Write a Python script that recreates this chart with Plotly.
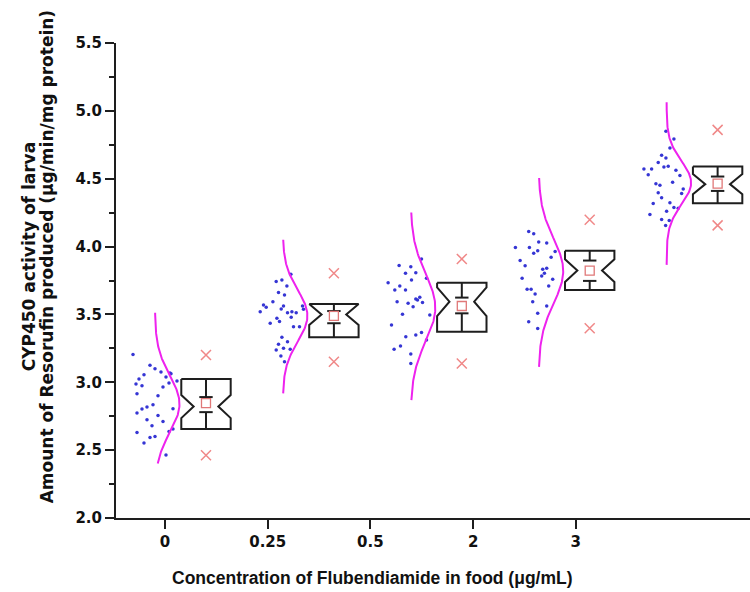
import numpy as np
import plotly.graph_objects as go

# ---------------- data ----------------
categories = ["0", "0.25", "0.5", "2", "3"]

values_0 = [3.204, 3.125, 3.100, 3.076, 3.068, 3.056, 3.024, 3.039, 3.063, 3.009, 2.975, 2.965,
            2.995, 2.916, 2.901, 2.834, 2.817, 2.803, 2.805, 2.724, 2.755, 2.711, 2.679, 2.655,
            2.637, 2.630, 2.593, 2.600, 2.552, 2.465, 2.987, 2.774]
values_1 = [3.796, 3.742, 3.754, 3.710, 3.661, 3.644, 3.594, 3.570, 3.553, 3.520, 3.540, 3.562,
            3.513, 3.520, 3.513, 3.562, 3.538, 3.472, 3.435, 3.447, 3.479, 3.410, 3.410, 3.331,
            3.299, 3.280, 3.250, 3.238, 3.193, 3.243, 3.151]
values_2 = [3.909, 3.860, 3.852, 3.803, 3.807, 3.766, 3.754, 3.734, 3.710, 3.680, 3.680, 3.614,
            3.627, 3.587, 3.607, 3.582, 3.557, 3.594, 3.501, 3.496, 3.422, 3.366, 3.349, 3.336,
            3.312, 3.268, 3.243, 3.209, 3.139]
values_3 = [4.111, 4.094, 4.033, 4.026, 3.993, 3.993, 3.970, 3.951, 3.963, 3.897, 3.922, 3.858,
            3.833, 3.841, 3.784, 3.804, 3.767, 3.760, 3.710, 3.686, 3.686, 3.651, 3.594, 3.562,
            3.508, 3.446, 3.397]
values_4 = [4.849, 4.793, 4.726, 4.672, 4.653, 4.620, 4.586, 4.591, 4.572, 4.572, 4.530, 4.562,
            4.523, 4.474, 4.462, 4.452, 4.425, 4.396, 4.391, 4.359, 4.317, 4.322, 4.283, 4.288,
            4.261, 4.236, 4.199, 4.192, 4.155]

# horizontal jitter of the raw-data dots (pixels from each group's anchor, as seen in the picture)
jitter_0 = [-22, -5, 0, 6, 15, -11, -16, 11, 16, 22, -13, 8, 14, -18, 3, -2, -8, -13, 18, -8,
            3, 8, -3, 18, 14, -18, -5, 0, -11, 11, -19, -18]
jitter_1 = [8.0, -6.7, -1.0, 4.0, -4.4, 1.6, -10.0, -19.4, -16.7, -22.7, -1.7, 0.6, 4.6, 9.0, 13.3,
            19.6, 20.6, -6.0, -12.7, -3.4, 8.3, 10.6, 16.6, -1.0, 4.6, -4.4, 0.6, -6.7, -2.0, 7.3, 1.6]
jitter_2 = [10.7, -11.7, 0.0, -5.3, 5.0, 15.7, 0.7, -22.7, -11.0, -16.0, -5.3, 5.0, 9.0, 11.7, 6.7,
            -2.7, 2.3, -13.7, -8.3, 19.0, -19.3, 10.7, 5.0, -5.0, 15.7, -10.3, -16.7, 0.0, 0.0]
jitter_3 = [-10.0, -5.0, 0.0, 8.0, -23.3, -9.3, -1.0, -5.0, 16.4, -18.6, 12.4, -13.6, 4.0, 8.0, 3.0,
            5.7, -16.6, 14.0, 10.0, -11.6, -7.6, -3.6, -6.0, 8.0, -1.0, -10.0, -1.0]
jitter_4 = [-0.7, 7.3, 3.3, -5.0, -0.7, -8.4, -2.7, 1.6, -22.7, -15.0, -18.4, 9.3, 13.3, 6.0, -10.7,
            -6.7, 16.6, -8.4, 15.0, -5.0, -13.4, 3.3, 11.6, 7.3, 0.0, -16.7, -5.0, 2.6, -1.0]

q1 = [2.655, 3.331, 3.373, 3.680, 4.320]
q3 = [3.024, 3.577, 3.734, 3.970, 4.590]
median = [2.821, 3.500, 3.594, 3.823, 4.460]
notch_half = [0.085, 0.077, 0.106, 0.084, 0.074]
mean = [2.846, 3.489, 3.562, 3.823, 4.464]
whisker_lo = [2.780, 3.435, 3.508, 3.747, 4.410]
whisker_hi = [2.891, 3.525, 3.624, 3.897, 4.516]
pct_lo = [2.463, 3.151, 3.139, 3.398, 4.156]
pct_hi = [3.201, 3.804, 3.909, 4.197, 4.860]
curve_mu = [2.84, 3.49, 3.55, 3.82, 4.47]
curve_sd = [0.21, 0.19, 0.25, 0.24, 0.16]
curve_lo = [2.401, 2.918, 2.869, 3.114, 3.865]
curve_hi = [3.513, 4.050, 4.251, 4.505, 5.063]

all_values = [values_0, values_1, values_2, values_3, values_4]
all_jitter = [jitter_0, jitter_1, jitter_2, jitter_3, jitter_4]

# ---------------- layout geometry ----------------
PX = 102.7                      # pixels per category tick step
GROUP_STEP = 127.9 / PX         # spacing of plotted groups
ANCHOR0 = -10 / PX              # first group's data/curve anchor
BOX_OFF = 51 / PX
BOX_HALF = 24.7 / PX
CAP_HALF = 6.7 / PX
CURVE_AMP = 24.5 / PX
NOTCH_FRAC = 0.5

BOX_COLOR = "#1e1e1e"
DOT_COLOR = "#3535d4"
CURVE_COLOR = "#ee22ee"
MEAN_COLOR = "#e07878"
PCT_COLOR = "#f08888"

fig = go.Figure()

dot_x, dot_y = [], []
curve_x, curve_y = [], []
box_x, box_y = [], []
wh_x, wh_y = [], []
mean_x, pct_x, pct_y = [], [], []

for i in range(len(categories)):
    a = ANCHOR0 + GROUP_STEP * i
    # dots
    for v, j in zip(all_values[i], all_jitter[i]):
        dot_x.append(a + j / PX)
        dot_y.append(v)
    # normal curve
    ys = np.linspace(curve_lo[i], curve_hi[i], 150)
    xs = a + CURVE_AMP * np.exp(-0.5 * ((ys - curve_mu[i]) / curve_sd[i]) ** 2)
    curve_x += list(xs) + [None]
    curve_y += list(ys) + [None]
    # notched box
    c = a + BOX_OFF
    xl, xr = c - BOX_HALF, c + BOX_HALF
    ind = BOX_HALF * (1 - NOTCH_FRAC)
    nt = min(median[i] + notch_half[i], q3[i])
    nb = max(median[i] - notch_half[i], q1[i])
    box_x += [xl, xr, xr, xr - ind, xr, xr, xl, xl, xl + ind, xl, xl, None]
    box_y += [q3[i], q3[i], nt, median[i], nb, q1[i], q1[i], nb, median[i], nt, q3[i], None]
    # whiskers + caps
    wh_x += [c, c, None, c, c, None,
             c - CAP_HALF, c + CAP_HALF, None, c - CAP_HALF, c + CAP_HALF, None]
    wh_y += [q3[i], whisker_hi[i], None, q1[i], whisker_lo[i], None,
             whisker_hi[i], whisker_hi[i], None, whisker_lo[i], whisker_lo[i], None]
    mean_x.append(c)
    pct_x += [c, c]
    pct_y += [pct_lo[i], pct_hi[i]]

fig.add_trace(go.Scatter(x=dot_x, y=dot_y, mode="markers",
                         marker=dict(size=3.5, color=DOT_COLOR), hoverinfo="skip"))
fig.add_trace(go.Scatter(x=curve_x, y=curve_y, mode="lines",
                         line=dict(color=CURVE_COLOR, width=2), hoverinfo="skip"))
fig.add_trace(go.Scatter(x=box_x, y=box_y, mode="lines",
                         line=dict(color=BOX_COLOR, width=2), hoverinfo="skip"))
fig.add_trace(go.Scatter(x=wh_x, y=wh_y, mode="lines",
                         line=dict(color=BOX_COLOR, width=2), hoverinfo="skip"))
fig.add_trace(go.Scatter(x=mean_x, y=mean, mode="markers",
                         marker=dict(symbol="square-open", size=9, color=MEAN_COLOR,
                                     line=dict(width=1.3, color=MEAN_COLOR))))
fig.add_trace(go.Scatter(x=pct_x, y=pct_y, mode="markers",
                         marker=dict(symbol="x-thin-open", size=10, color=PCT_COLOR,
                                     line=dict(width=1.5, color=PCT_COLOR))))

tickfont = dict(family="DejaVu Sans", size=15, color="#111111", weight="bold")

fig.update_layout(
    width=750, height=592,
    margin=dict(l=116, r=0, t=43, b=74),
    plot_bgcolor="white", paper_bgcolor="white",
    showlegend=False,
)
fig.update_xaxes(
    range=[-0.477, 5.696], tickvals=list(range(len(categories))), ticktext=categories,
    showline=True, linecolor=BOX_COLOR, linewidth=2, mirror=False,
    ticks="outside", ticklen=9, tickwidth=2, tickcolor=BOX_COLOR,
    showgrid=False, zeroline=False, tickfont=tickfont,
)
fig.update_yaxes(
    range=[2.0, 5.5], dtick=0.5, tick0=2.0, tickformat=".1f",
    showline=True, linecolor=BOX_COLOR, linewidth=2,
    ticks="outside", ticklen=9, tickwidth=2, tickcolor=BOX_COLOR,
    minor=dict(dtick=0.25, ticks="outside", ticklen=5, tickwidth=2, tickcolor=BOX_COLOR),
    showgrid=False, zeroline=False, tickfont=tickfont,
)

fig.add_annotation(text="Concentration of Flubendiamide in food (μg/mL)",
                   xref="paper", yref="paper", x=(372.5 - 116) / 634, y=(517.7 - 578) / 475,
                   xanchor="center", yanchor="middle", showarrow=False,
                   font=dict(family="Liberation Sans", size=17.5, color="#111111", weight="bold"))
fig.add_annotation(text="CYP450 activity of larva",
                   xref="paper", yref="paper", x=(29 - 116) / 634, y=(517.7 - 257) / 475,
                   xanchor="center", yanchor="middle", showarrow=False, textangle=-90,
                   font=dict(family="DejaVu Sans", size=17, color="#111111", weight="bold"))
fig.add_annotation(text="Amount of Resorufin produced (μg/min/mg protein)",
                   xref="paper", yref="paper", x=(47 - 116) / 634, y=(517.7 - 257) / 475,
                   xanchor="center", yanchor="middle", showarrow=False, textangle=-90,
                   font=dict(family="DejaVu Sans", size=17, color="#111111", weight="bold"))

fig.write_html("out.html")
